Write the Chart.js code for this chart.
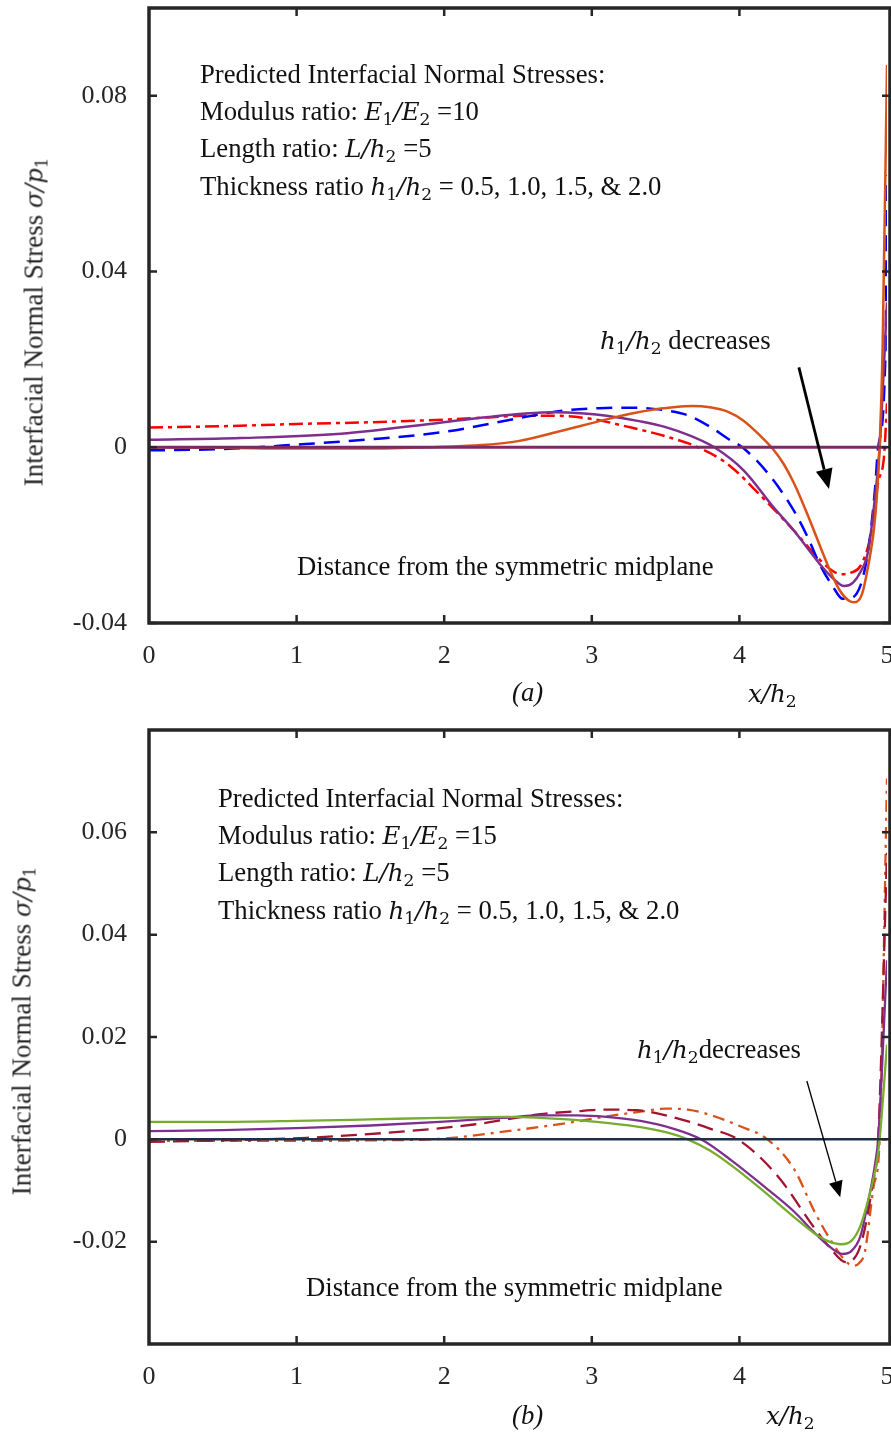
<!DOCTYPE html>
<html>
<head>
<meta charset="utf-8">
<script src="https://cdn.jsdelivr.net/npm/chart.js@4.4.0/dist/chart.umd.min.js"></script>
<style>
  body { margin: 0; background: #fff; }
  #page { position: relative; width: 891px; height: 1433px; overflow: hidden;
          font-family: 'Liberation Serif', 'Times New Roman', serif; color: #111; }
  canvas { position: absolute; left: 0; }
  .txt { position: absolute; font-size: 26.7px; line-height: 36.5px; white-space: nowrap; }
  .m { font-family: 'DejaVu Serif', serif; font-style: italic; font-size: 24.5px; }
  .ytitle { position: absolute; font-size: 27px; line-height: 30px; white-space: nowrap;
            transform: translate(-50%, -50%) rotate(-90deg); color: #262626; }
  .ytitle .m { font-size: 24px; }
  sub { font-size: 70%; font-style: normal; vertical-align: -0.3em; line-height: 0; }
</style>
</head>
<body>
<div id="page">
  <canvas id="chartA" width="891" height="715" style="top:0"></canvas>
  <canvas id="chartB" width="891" height="718" style="top:715px"></canvas>

  <!-- chart (a) texts -->
  <div class="txt" style="left:200px;top:56px">
    Predicted Interfacial Normal Stresses:<br>
    Modulus ratio: <span class="m">E<sub>1</sub>/E<sub>2</sub></span> =10<br>
    Length ratio: <span class="m">L/h<sub>2</sub></span> =5<br>
    Thickness ratio <span class="m">h<sub>1</sub>/h<sub>2</sub></span> = 0.5, 1.0, 1.5, &amp; 2.0
  </div>
  <div class="txt" style="left:600px;top:322px"><span class="m">h<sub>1</sub>/h<sub>2</sub></span> decreases</div>
  <div class="txt" style="left:297px;top:548px">Distance from the symmetric midplane</div>
  <div class="txt" style="left:512px;top:674px"><i>(a)</i></div>
  <div class="txt" style="left:748px;top:675px"><span class="m">x/h<sub>2</sub></span></div>
  <div class="ytitle" style="left:34px;top:322px">Interfacial Normal Stress <span class="m">σ/p<sub>1</sub></span></div>

  <!-- chart (b) texts -->
  <div class="txt" style="left:218px;top:780px">
    Predicted Interfacial Normal Stresses:<br>
    Modulus ratio: <span class="m">E<sub>1</sub>/E<sub>2</sub></span> =15<br>
    Length ratio: <span class="m">L/h<sub>2</sub></span> =5<br>
    Thickness ratio <span class="m">h<sub>1</sub>/h<sub>2</sub></span> = 0.5, 1.0, 1.5, &amp; 2.0
  </div>
  <div class="txt" style="left:637px;top:1031px"><span class="m">h<sub>1</sub>/h<sub>2</sub></span>decreases</div>
  <div class="txt" style="left:306px;top:1269px">Distance from the symmetric midplane</div>
  <div class="txt" style="left:512px;top:1397px"><i>(b)</i></div>
  <div class="txt" style="left:766px;top:1397px"><span class="m">x/h<sub>2</sub></span></div>
  <div class="ytitle" style="left:22px;top:1031px">Interfacial Normal Stress <span class="m">σ/p<sub>1</sub></span></div>
</div>

<script>
// ---- shared tick labels ----
const xTicks = [0, 1, 2, 3, 4, 5];

// ---- chart (a): E1/E2 = 10 ----
const yTicksA = [-0.04, 0, 0.04, 0.08];

const orangeAX = [0, 0.5, 1.0, 1.5, 2.0, 2.25, 2.5, 2.79, 3.0, 3.2, 3.4, 3.55, 3.68, 3.8, 3.92, 4.03, 4.13, 4.23, 4.3, 4.37, 4.46, 4.55, 4.62, 4.68, 4.74, 4.78, 4.83, 4.87, 4.91, 4.93, 4.95, 4.97, 5.0];
const orangeAY = [0, -0.0001, -0.0003, -0.0003, 0.0001, 0.0005, 0.0014, 0.0037, 0.0055, 0.0072, 0.0085, 0.0091, 0.0094, 0.0091, 0.0081, 0.0060, 0.0030, -0.0005, -0.0038, -0.0082, -0.0152, -0.0228, -0.0285, -0.0326, -0.0349, -0.0353, -0.0335, -0.0275, -0.019, -0.0118, 0, 0.022, 0.087];

const blueAX = [0, 0.5, 1.0, 1.5, 2.0, 2.5, 2.8, 3.05, 3.3, 3.5, 3.65, 3.81, 3.92, 4.02, 4.2, 4.37, 4.46, 4.55, 4.63, 4.70, 4.76, 4.82, 4.86, 4.89, 4.92, 4.94, 4.99, 5.0];
const blueAY = [-0.0007, -0.0004, 0.0006, 0.0018, 0.0035, 0.0066, 0.0083, 0.0089, 0.009, 0.0084, 0.0073, 0.0045, 0.002, 0, -0.0062, -0.0145, -0.0203, -0.027, -0.0315, -0.0345, -0.0343, -0.0315, -0.026, -0.019, -0.009, 0, 0.022, 0.062];

const redAX = [0, 0.5, 1.0, 1.5, 2.0, 2.3, 2.55, 2.75, 2.99, 3.24, 3.5, 3.72, 3.92, 4.15, 4.37, 4.55, 4.63, 4.69, 4.76, 4.82, 4.89, 4.94, 4.98, 5.0];
const redAY = [0.0045, 0.0048, 0.0053, 0.0057, 0.0063, 0.0068, 0.0072, 0.0072, 0.0065, 0.0047, 0.0025, 0, -0.0038, -0.0112, -0.019, -0.0258, -0.0281, -0.0289, -0.0285, -0.027, -0.020, -0.008, -0.002, 0.010];

const purpleAX = [0, 0.62, 1.30, 1.97, 2.3, 2.55, 2.75, 2.95, 3.1, 3.33, 3.5, 3.67, 3.83, 4.03, 4.23, 4.37, 4.55, 4.63, 4.71, 4.77, 4.82, 4.87, 4.91, 4.95, 5.0];
const purpleAY = [0.0017, 0.0021, 0.0031, 0.0056, 0.0069, 0.0077, 0.0080, 0.0077, 0.0072, 0.0059, 0.0046, 0.0026, 0, -0.0053, -0.0136, -0.019, -0.0268, -0.0297, -0.0316, -0.0308, -0.0284, -0.024, -0.014, 0, 0.033];

const zeroX = [0, 5];
const zeroY = [0, 0];

// ---- chart (b): E1/E2 = 15 ----
const yTicksB = [-0.02, 0, 0.02, 0.04, 0.06];

const greenBX = [0, 0.5, 1.0, 1.5, 1.97, 2.43, 2.88, 3.1, 3.33, 3.5, 3.65, 3.8, 3.95, 4.15, 4.37, 4.5, 4.6, 4.69, 4.76, 4.82, 4.88, 4.93, 4.95, 5.0];
const greenBY = [0.0034, 0.0034, 0.0036, 0.0039, 0.0042, 0.0044, 0.0038, 0.0032, 0.0024, 0.0014, 0, -0.0022, -0.0052, -0.0098, -0.0152, -0.0182, -0.0199, -0.0205, -0.0198, -0.0169, -0.011, -0.0045, 0, 0.0185];

const purpleBX = [0, 0.5, 1.0, 1.5, 1.97, 2.4, 2.65, 2.9, 3.1, 3.33, 3.55, 3.74, 3.95, 4.15, 4.37, 4.5, 4.6, 4.70, 4.76, 4.82, 4.87, 4.92, 4.94, 5.0];
const purpleBY = [0.0016, 0.0018, 0.0022, 0.0027, 0.0034, 0.0042, 0.0047, 0.0047, 0.0044, 0.0036, 0.0021, 0, -0.0042, -0.0088, -0.0141, -0.018, -0.0207, -0.0224, -0.0218, -0.0189, -0.0125, -0.0047, 0, 0.035];

const darkRedBX = [0, 0.5, 1.07, 1.75, 2.2, 2.65, 2.9, 3.1, 3.3, 3.58, 3.8, 3.99, 4.26, 4.51, 4.62, 4.72, 4.78, 4.82, 4.86, 4.90, 4.94, 5.0];
const darkRedBY = [-0.0005, -0.0002, 0.0003, 0.0016, 0.0029, 0.0049, 0.0055, 0.0058, 0.0057, 0.0041, 0.0021, 0, -0.0072, -0.0174, -0.0214, -0.024, -0.0232, -0.0208, -0.016, -0.0091, 0, 0.056];

const orangeBX = [0, 0.5, 1.0, 1.5, 1.97, 2.43, 2.88, 3.1, 3.33, 3.5, 3.65, 3.8, 4.01, 4.19, 4.37, 4.51, 4.64, 4.72, 4.77, 4.81, 4.85, 4.91, 4.95, 5.0];
const orangeBY = [-0.0003, -0.0003, -0.0003, -0.0002, 0.0001, 0.0016, 0.0034, 0.0045, 0.0054, 0.006, 0.0058, 0.0048, 0.0025, 0, -0.0058, -0.0142, -0.0207, -0.0238, -0.0247, -0.0242, -0.022, -0.0091, 0, 0.0705];

// arrows in data coordinates [x0, y0, x1, y1]
const arrowA = [4.403, 0.0182, 4.607, -0.0095];
const arrowB = [4.457, 0.0114, 4.683, -0.0113];

function pts(xs, ys) {
    return xs.map((x, i) => ({ x: x, y: ys[i] }));
}

function line(xs, ys, color, width, dash) {
    return {
        data: pts(xs, ys),
        borderColor: color,
        borderWidth: width,
        borderDash: dash || [],
        pointRadius: 0,
        fill: false,
        cubicInterpolationMode: 'monotone'
    };
}

// box frame, inward ticks and arrow
const framePlugin = {
    id: 'frame',
    afterDatasetsDraw(chart, args, opts) {
        const { ctx, chartArea: a } = chart;
        const xs = chart.scales.x, ys = chart.scales.y;
        const right = a.right + 3;
        ctx.save();
        ctx.strokeStyle = '#262626';
        ctx.lineWidth = 2.5;
        opts.xTicks.forEach(v => {
            const px = xs.getPixelForValue(v);
            ctx.beginPath();
            ctx.moveTo(px, a.bottom); ctx.lineTo(px, a.bottom - 8);
            ctx.moveTo(px, a.top); ctx.lineTo(px, a.top + 8);
            ctx.stroke();
        });
        opts.yTicks.forEach(v => {
            const py = ys.getPixelForValue(v);
            ctx.beginPath();
            ctx.moveTo(a.left, py); ctx.lineTo(a.left + 8, py);
            ctx.moveTo(right, py); ctx.lineTo(right - 8, py);
            ctx.stroke();
        });
        ctx.lineWidth = 3.5;
        ctx.strokeRect(a.left, a.top, right - a.left, a.bottom - a.top);

        // arrow
        const ar = opts.arrow;
        const x0 = xs.getPixelForValue(ar[0]), y0 = ys.getPixelForValue(ar[1]);
        const x1 = xs.getPixelForValue(ar[2]), y1 = ys.getPixelForValue(ar[3]);
        const ang = Math.atan2(y1 - y0, x1 - x0);
        const hl = opts.headLen, hw = opts.headW;
        const bx = x1 - hl * Math.cos(ang), by = y1 - hl * Math.sin(ang);
        ctx.strokeStyle = '#000';
        ctx.fillStyle = '#000';
        ctx.lineWidth = opts.arrowWidth;
        ctx.beginPath();
        ctx.moveTo(x0, y0); ctx.lineTo(bx, by);
        ctx.stroke();
        ctx.beginPath();
        ctx.moveTo(x1, y1);
        ctx.lineTo(bx + hw * Math.sin(ang), by - hw * Math.cos(ang));
        ctx.lineTo(bx - hw * Math.sin(ang), by + hw * Math.cos(ang));
        ctx.closePath();
        ctx.fill();
        ctx.restore();
    }
};

function makeChart(id, datasets, yMin, yMax, yTicks, padTop, xHeight, arrow, arrowWidth, headLen, headW) {
    const tickFont = { family: "'Liberation Serif', 'Times New Roman', serif", size: 26 };
    return new Chart(document.getElementById(id), {
        type: 'line',
        data: { datasets: datasets },
        plugins: [framePlugin],
        options: {
            responsive: false,
            animation: false,
            devicePixelRatio: 1,
            layout: { padding: { top: padTop, right: 4, left: 0, bottom: 0 } },
            plugins: {
                legend: { display: false },
                tooltip: { enabled: false },
                frame: { xTicks: [1, 2, 3, 4], yTicks: yTicks, arrow: arrow,
                         arrowWidth: arrowWidth, headLen: headLen, headW: headW }
            },
            scales: {
                x: {
                    type: 'linear', min: 0, max: 5,
                    grid: { display: false, drawTicks: false },
                    border: { display: false },
                    ticks: { font: tickFont, color: '#262626', padding: 18, maxRotation: 0,
                             autoSkip: false, callback: v => String(v) },
                    afterBuildTicks: s => { s.ticks = xTicks.map(v => ({ value: v })); },
                    afterFit: s => { s.height = xHeight; s.paddingLeft = 0; s.paddingRight = 0; }
                },
                y: {
                    type: 'linear', min: yMin, max: yMax,
                    grid: { display: false, drawTicks: false },
                    border: { display: false },
                    ticks: { font: tickFont, color: '#262626', padding: 22, autoSkip: false,
                             callback: v => (Math.abs(v) < 1e-9 ? '0' : v.toFixed(2)) },
                    afterBuildTicks: s => { s.ticks = yTicks.map(v => ({ value: v })); },
                    afterFit: s => { s.width = 149; s.paddingTop = 0; s.paddingBottom = 0; }
                }
            }
        }
    });
}

// first dataset is drawn on top
makeChart('chartA', [
    line(zeroX, zeroY, '#7b2a66', 3),
    line(orangeAX, orangeAY, '#D95319', 2.5),
    line(purpleAX, purpleAY, '#7E2F8E', 2.5),
    line(blueAX, blueAY, '#0000FF', 2.5, [16, 9]),
    line(redAX, redAY, '#FF0000', 2.5, [14, 5, 4, 5])
], -0.04, 0.10, yTicksA, 8, 92, arrowA, 2.8, 20, 8.5);

makeChart('chartB', [
    line(zeroX, zeroY, '#1c2e4a', 2.5),
    line(greenBX, greenBY, '#77AC30', 2.3),
    line(purpleBX, purpleBY, '#7E2F8E', 2.3),
    line(darkRedBX, darkRedBY, '#A2142F', 2.3, [16, 8]),
    line(orangeBX, orangeBY, '#D95319', 2.3, [12, 6, 3, 6])
], -0.04, 0.08, yTicksB, 15, 89, arrowB, 1.3, 16, 7);
</script>
</body>
</html>
